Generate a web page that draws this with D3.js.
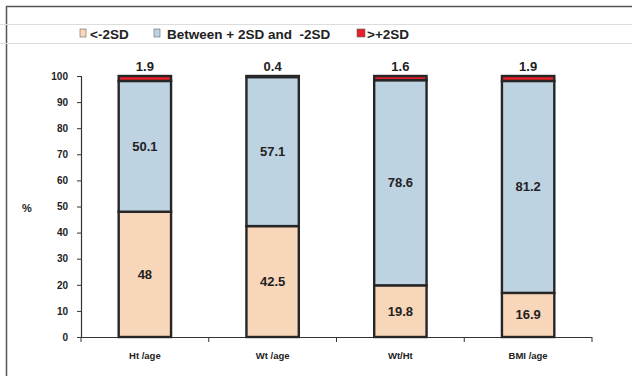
<!DOCTYPE html>
<html>
<head>
<meta charset="utf-8">
<script src="https://cdn.jsdelivr.net/npm/d3@7"></script>
<style>
  html, body { margin: 0; padding: 0; background: #fff; }
  svg { display: block; font-family: Arial, "Liberation Sans", sans-serif; }
</style>
</head>
<body>
<svg id="chart" width="632" height="376"></svg>
<script>
// Nutritional status indicators (% of children)
const categories = ["Ht /age", "Wt /age", "Wt/Ht", "BMI /age"];
const belowMinus2SD = [48, 42.5, 19.8, 16.9];
const between2SD = [50.1, 57.1, 78.6, 81.2];
const abovePlus2SD = [1.9, 0.4, 1.6, 1.9];
const seriesNames = ["<-2SD", "Between + 2SD and  -2SD", ">+2SD"];
const yTicks = [0, 10, 20, 30, 40, 50, 60, 70, 80, 90, 100];

const colors = ["#f8d6b9", "#bed3e2", "#e4202a"];

const svg = d3.select("#chart");

// Frame lines
svg.append("line").attr("x1", 6.5).attr("x2", 6.5).attr("y1", 6).attr("y2", 376)
  .attr("stroke", "#555").attr("stroke-width", 1.5);
svg.append("line").attr("x1", 6).attr("x2", 632).attr("y1", 6.5).attr("y2", 6.5)
  .attr("stroke", "#555").attr("stroke-width", 1.5);
[24.5, 43.5].forEach(y => {
  svg.append("line").attr("x1", 0).attr("x2", 632).attr("y1", y).attr("y2", y)
    .attr("stroke", "#ddd").attr("stroke-width", 1.2);
});

const x = d3.scaleBand().domain(categories).range([81, 592]).paddingInner(0.59).paddingOuter(0.295);
const y = d3.scaleLinear().domain([0, 100]).range([337, 76]);

// Stack data
const rows = categories.map((c, i) => ({
  cat: c, s0: belowMinus2SD[i], s1: between2SD[i], s2: abovePlus2SD[i]
}));
const stack = d3.stack().keys(["s0", "s1", "s2"])(rows);

// Y axis
const yAxis = d3.axisLeft(y).tickValues(yTicks).tickSize(4).tickPadding(9);
const gy = svg.append("g").attr("transform", "translate(81,0)").call(yAxis);
gy.select(".domain").attr("stroke", "#333").attr("stroke-width", 1.2);
gy.selectAll(".tick line").attr("stroke", "#333");
gy.selectAll(".tick text").attr("fill", "#222").style("font-size", "10px").style("font-weight", "bold");

// X axis with boundary ticks
const gx = svg.append("g").attr("transform", "translate(0,337)");
gx.append("line").attr("x1", 81).attr("x2", 592).attr("y1", 0.5).attr("y2", 0.5)
  .attr("stroke", "#333").attr("stroke-width", 1.2);
const step = x.step();
const bounds = d3.range(categories.length + 1).map(i => 81 + i * step);
gx.selectAll("line.b").data(bounds).enter().append("line").attr("class", "b")
  .attr("x1", d => d).attr("x2", d => d).attr("y1", 0).attr("y2", 5)
  .attr("stroke", "#333");
gx.selectAll("text").data(categories).enter().append("text")
  .attr("x", d => x(d) + x.bandwidth() / 2).attr("y", 22)
  .attr("text-anchor", "middle").attr("fill", "#222")
  .style("font-size", "9.5px").style("font-weight", "bold").text(d => d);

// "%" label
svg.append("text").attr("x", 27).attr("y", 212).attr("text-anchor", "middle")
  .attr("fill", "#222").style("font-size", "11px").style("font-weight", "bold").text("%");

// Bars
stack.forEach((layer, li) => {
  svg.append("g").selectAll("rect").data(layer).enter().append("rect")
    .attr("x", d => x(d.data.cat))
    .attr("y", d => y(d[1]))
    .attr("width", x.bandwidth())
    .attr("height", d => y(d[0]) - y(d[1]))
    .attr("fill", colors[li])
    .attr("stroke", "#262626").attr("stroke-width", 2.4);
});

// Value labels
stack.forEach((layer, li) => {
  svg.append("g").selectAll("text").data(layer).enter().append("text")
    .attr("x", d => x(d.data.cat) + x.bandwidth() / 2)
    .attr("y", d => li === 2 ? y(d[1]) - 5 : y((d[0] + d[1]) / 2) + 4.5)
    .attr("text-anchor", "middle").attr("fill", "#222")
    .style("font-size", "13px").style("font-weight", "bold")
    .text(d => d3.format("")(+(d[1] - d[0]).toFixed(1)));
});

// Legend
const legendX = [80, 154, 357];
const lg = svg.append("g");
seriesNames.forEach((name, i) => {
  lg.append("rect").attr("x", legendX[i]).attr("y", 29).attr("width", i === 2 ? 8 : 6).attr("height", 8)
    .attr("fill", colors[i]).attr("stroke", "#666").attr("stroke-width", 0.6);
  lg.append("text").attr("x", legendX[i] + 10 + (i === 1 ? 3 : 0)).attr("y", 39)
    .attr("fill", "#222").style("font-size", "13.5px").style("font-weight", "bold")
    .style("white-space", "pre").text(name);
});
</script>
</body>
</html>
